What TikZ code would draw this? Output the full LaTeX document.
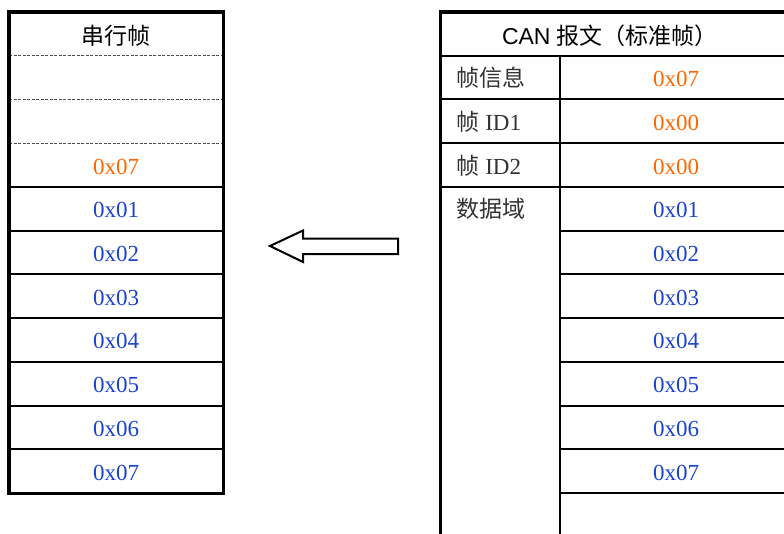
\documentclass[tikz,border=0pt]{standalone}
\usepackage{fontspec}
\setmainfont{Liberation Serif}
\newfontfamily\cjkfont{Noto Sans CJK SC}
\newfontfamily\arialfont{Liberation Sans}
\usetikzlibrary{positioning}
\definecolor{ValOrange}{HTML}{FF6600}
\definecolor{ValBlue}{HTML}{1A44D0}
\definecolor{LabelGray}{HTML}{333333}
\tikzset{
  sepline/.style={line width=0.9pt, black!70, dash pattern=on 3pt off 1.5pt},
  rowline/.style={line width=2pt},
  frameline/.style={line width=3pt},
  val/.style={anchor=base, font=\fontsize{23}{27}\selectfont},
  lbl/.style={anchor=base west, text=LabelGray, font=\fontsize{23}{27}\selectfont},
  head/.style={anchor=base, font=\fontsize{23}{27}\selectfont}
}

\begin{document}
\begin{tikzpicture}[x=1pt, y=-1pt]
  \useasboundingbox (0,0) rectangle (784,533);
  \clip (0,0) rectangle (784,533);

  \coordinate (SerTop) at (9,12);
  \coordinate (SerBot) at (223,493);
  \coordinate (CanTop) at (440,12);
  \coordinate (CanBot) at (792,560);

  % serial frame
  \foreach \k in {1,2,3}{%
    \draw [sepline] (9,{12+43.73*\k}) -- (223,{12+43.73*\k});
  }
  \foreach \k in {4,...,10}{%
    \draw [rowline] (9,{12+43.73*\k}) -- (223,{12+43.73*\k});
  }
  \draw [frameline] (SerTop) rectangle (SerBot);
  \draw [line width=4pt] (9,10) -- (9,494.5);
  \draw [line width=4pt] (7,12) -- (224.5,12);

  \node [head] (SerHead) at (116,44) {\cjkfont 串行帧};
  \node [val, text=ValOrange] (Ser3) at (116,{12+43.73*3.5+9}) {0x07};
  \foreach \k/\v in {4/01,5/02,6/03,7/04,8/05,9/06,10/07}{%
    \node [val, text=ValBlue] (Ser\k) at (116,{12+43.73*(\k+0.5)+9}) {0x\v};
  }

  % CAN frame
  \foreach \k in {1,2,3,4}{%
    \draw [rowline] (440,{12+43.73*\k}) -- (792,{12+43.73*\k});
  }
  \foreach \k in {5,...,11}{%
    \draw [rowline] (560,{12+43.73*\k}) -- (792,{12+43.73*\k});
  }
  \draw [rowline] (559.5,{12+43.73}) -- (559.5,560);
  \draw [frameline] (CanTop) -- (440,560);
  \draw [line width=4pt] (438.5,12) -- (792,12);

  \node [head] (CanHead) at (610,44) {\arialfont CAN {\cjkfont 报文（标准帧）}};
  \node [lbl] (CanInfo) at (453,{12+43.73*1.5+9}) {\cjkfont 帧信息};
  \node [lbl] (CanIdA) at (453,{12+43.73*2.5+9}) {{\cjkfont 帧} ID1};
  \node [lbl] (CanIdB) at (453,{12+43.73*3.5+9}) {{\cjkfont 帧} ID2};
  \node [lbl] (CanData) at (453,{12+43.73*4.5+9}) {\cjkfont 数据域};
  \foreach \k/\v in {1/07,2/00,3/00}{%
    \node [val, text=ValOrange] (Can\k) at (676,{12+43.73*(\k+0.5)+9}) {0x\v};
  }
  \foreach \k/\v in {4/01,5/02,6/03,7/04,8/05,9/06,10/07}{%
    \node [val, text=ValBlue] (Can\k) at (676,{12+43.73*(\k+0.5)+9}) {0x\v};
  }

  % arrow
  \draw [line width=2pt, line join=miter]
    (270,246) -- (303,230.5) -- (303,238.5) -- (398,238.5)
    -- (398,254) -- (303,254) -- (303,262) -- cycle;
\end{tikzpicture}
\end{document}
